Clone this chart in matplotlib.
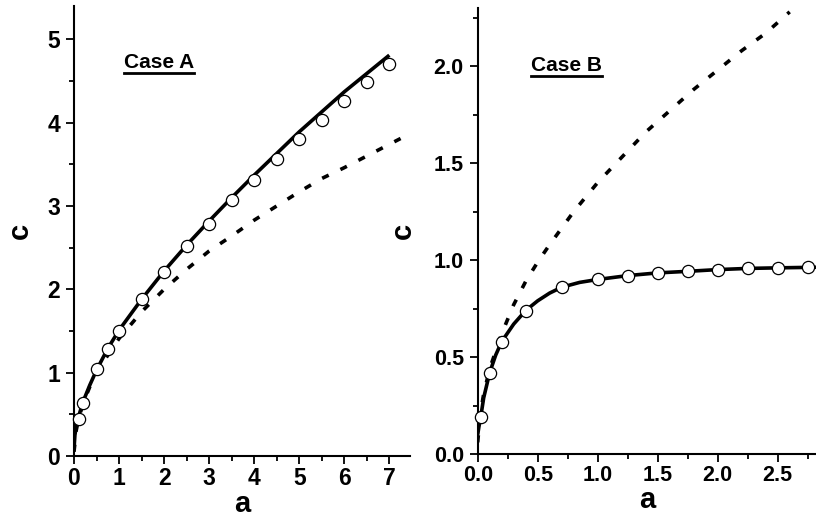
import matplotlib
matplotlib.use("Agg")
import matplotlib.pyplot as plt
from matplotlib.ticker import MultipleLocator
from matplotlib.lines import Line2D

plt.rcParams['font.family'] = ['Liberation Sans', 'DejaVu Sans']
plt.rcParams['font.weight'] = 'bold'

# ---- Case A data ----
a_A_pts = [0.1, 0.2, 0.5, 0.75, 1, 1.5, 2, 2.5, 3, 3.5, 4, 4.5, 5, 5.5, 6, 6.5, 7]
c_A_pts = [0.45, 0.64, 1.04, 1.29, 1.50, 1.88, 2.21, 2.52, 2.79, 3.07, 3.31, 3.56,
           3.80, 4.03, 4.26, 4.49, 4.71]
a_A_solid = [0.0, 0.02, 0.05, 0.1, 0.2, 0.35, 0.5, 0.75, 1, 1.5, 2, 2.5, 3, 3.5, 4,
             4.5, 5, 5.5, 6, 6.5, 7]
c_A_solid = [0.08, 0.25, 0.36, 0.47, 0.65, 0.85, 1.03, 1.29, 1.51, 1.88, 2.22, 2.53,
             2.82, 3.10, 3.37, 3.63, 3.89, 4.13, 4.37, 4.59, 4.81]
a_A_dash = [0.0, 0.05, 0.1, 0.2, 0.35, 0.5, 0.75, 1, 1.5, 2, 2.5, 3, 3.5, 4, 4.5, 5,
            5.5, 6, 6.5, 7, 7.25]
c_A_dash = [0.05, 0.31, 0.44, 0.63, 0.83, 0.99, 1.21, 1.41, 1.73, 2.00, 2.24, 2.46,
            2.64, 2.83, 3.00, 3.17, 3.33, 3.46, 3.60, 3.74, 3.81]

# ---- Case B data ----
a_B_pts = [0.025, 0.1, 0.2, 0.4, 0.7, 1.0, 1.25, 1.5, 1.75, 2.0, 2.25, 2.5, 2.75]
c_B_pts = [0.19, 0.42, 0.58, 0.74, 0.86, 0.90, 0.92, 0.934, 0.942, 0.951, 0.958,
           0.960, 0.962]
a_B_solid = [0.0, 0.01, 0.025, 0.05, 0.1, 0.15, 0.2, 0.3, 0.4, 0.5, 0.6, 0.7, 0.85,
             1.0, 1.25, 1.5, 1.75, 2.0, 2.25, 2.5, 2.82]
c_B_solid = [0.10, 0.14, 0.19, 0.29, 0.42, 0.51, 0.58, 0.67, 0.74, 0.79, 0.83, 0.86,
             0.885, 0.90, 0.92, 0.934, 0.942, 0.951, 0.957, 0.960, 0.963]
a_B_dash = [0.0, 0.02, 0.05, 0.1, 0.2, 0.3, 0.4, 0.5, 0.6, 0.8, 1.0, 1.2, 1.4, 1.6,
            1.8, 2.0, 2.2, 2.4, 2.6]
c_B_dash = [0.06, 0.20, 0.31, 0.44, 0.62, 0.77, 0.89, 0.99, 1.08, 1.25, 1.40, 1.53,
            1.66, 1.77, 1.88, 1.98, 2.08, 2.17, 2.28]

xticks_A = [0, 1, 2, 3, 4, 5, 6, 7]
yticks_A = [0, 1, 2, 3, 4, 5]
xticks_B = [0.0, 0.5, 1.0, 1.5, 2.0, 2.5]
yticks_B = [0.0, 0.5, 1.0, 1.5, 2.0]

W, H = 816, 527
fig = plt.figure(figsize=(W / 100, H / 100), dpi=100)

axA = fig.add_axes([74 / W, (H - 456) / H, 335.6 / W, 450 / H])
axB = fig.add_axes([477.7 / W, (H - 454) / H, 338.4 / W, 446 / H])

dash_style = (0, (2.0, 3.6))

def style(ax, xt, yt, xmin, xmax, ymin, ymax, fmt, fs, xminor, yminor):
    ax.set_xlim(xmin, xmax)
    ax.set_ylim(ymin, ymax)
    for s in ['top', 'right']:
        ax.spines[s].set_visible(False)
    for s in ['left', 'bottom']:
        ax.spines[s].set_linewidth(1.5)
    ax.set_xticks(xt)
    ax.set_yticks(yt)
    ax.set_xticklabels([fmt.format(v) for v in xt])
    ax.set_yticklabels([fmt.format(v) for v in yt])
    ax.xaxis.set_minor_locator(MultipleLocator(xminor))
    ax.yaxis.set_minor_locator(MultipleLocator(yminor))
    ax.tick_params(which='major', direction='out', length=6, width=1.3,
                   labelsize=fs)
    ax.tick_params(which='minor', direction='out', length=3.5, width=1.3)
    ax.tick_params(axis='x', which='major', pad=2)
    ax.tick_params(axis='y', which='major', pad=4)
    for lab in ax.get_xticklabels() + ax.get_yticklabels():
        lab.set_fontweight('bold')

for ax, asol, csol, adash, cdash, apts, cpts in [
        (axA, a_A_solid, c_A_solid, a_A_dash, c_A_dash, a_A_pts, c_A_pts),
        (axB, a_B_solid, c_B_solid, a_B_dash, c_B_dash, a_B_pts, c_B_pts)]:
    ax.plot(adash, cdash, color='black', lw=2.6, linestyle=dash_style,
            dash_capstyle='butt', clip_on=True)
    ax.plot(asol, csol, color='black', lw=2.6, solid_capstyle='butt')
    ax.plot(apts, cpts, linestyle='none', marker='o', markersize=8.8,
            markerfacecolor='white', markeredgecolor='black',
            markeredgewidth=0.9, clip_on=False, zorder=5)

style(axA, xticks_A, yticks_A, 0, 7.45, 0, 5.4, '{:g}', 16.5, 0.5, 0.5)
style(axB, xticks_B, yticks_B, 0, 2.82, 0, 2.3, '{:.1f}', 15.5, 0.25, 0.25)

for ax, ylx in [(axA, -0.161), (axB, -0.221)]:
    ax.set_xlabel('a', fontsize=21, fontweight='bold', labelpad=0)
    ax.set_ylabel('c', fontsize=21, fontweight='bold', va='center')
    ax.yaxis.set_label_coords(ylx, 0.5)

tA = axA.text(0.253, 0.863, 'Case A', transform=axA.transAxes, ha='center',
              va='baseline', fontsize=15, fontweight='bold')
tB = axB.text(0.261, 0.859, 'Case B', transform=axB.transAxes, ha='center',
              va='baseline', fontsize=15, fontweight='bold')

fig.canvas.draw()
r = fig.canvas.get_renderer()
for t, ax in [(tA, axA), (tB, axB)]:
    bb = t.get_window_extent(renderer=r)
    x0, x1 = bb.x0 / W, bb.x1 / W
    base = ax.transAxes.transform(t.get_position())[1]
    y = (base - 5) / H
    fig.add_artist(Line2D([x0, x1], [y, y], transform=fig.transFigure,
                          color='black', lw=2.0))

fig.savefig('out.png', dpi=100)
